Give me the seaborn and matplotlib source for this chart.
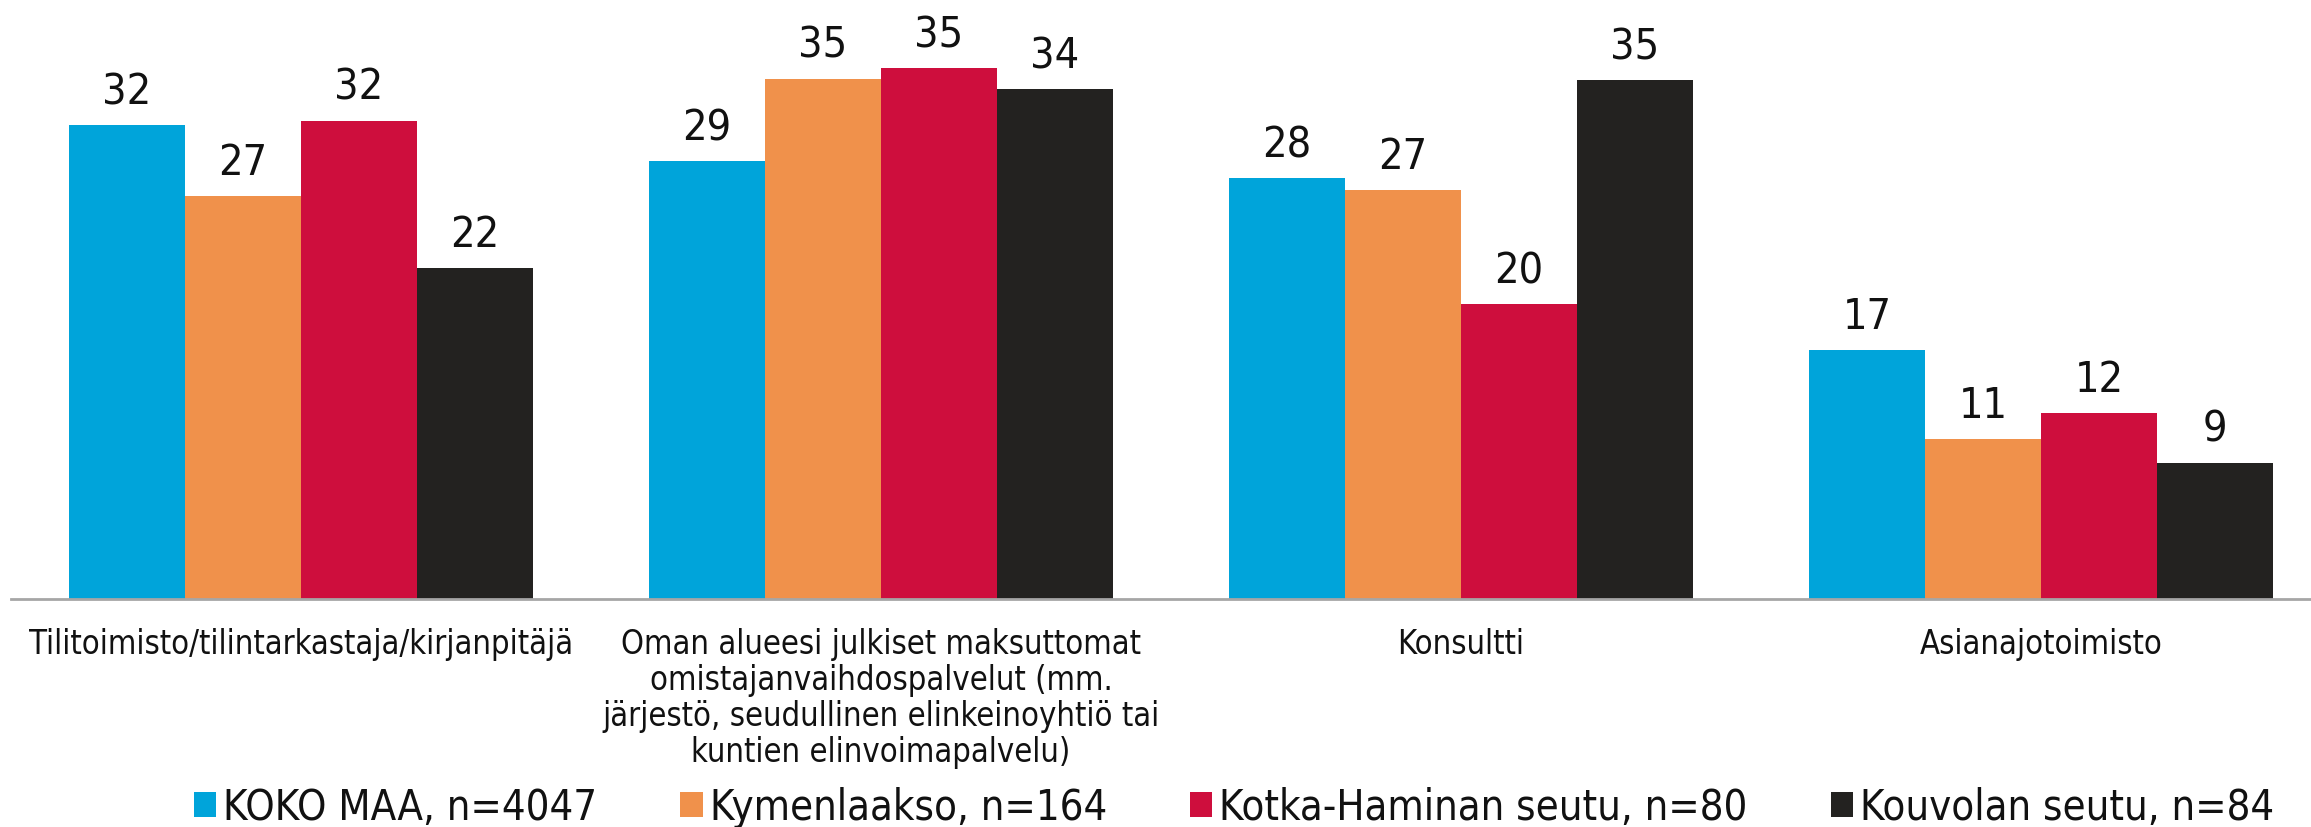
import pandas as pd
import matplotlib
matplotlib.use('Agg')
import matplotlib.pyplot as plt
import seaborn as sns

# ── Data ──────────────────────────────────────────────────────────────────────
categories = [
    'Tilitoimisto/tilintarkastaja/kirjanpitäjä',
    'Oman alueesi julkiset maksuttomat\nomistajanvaihdospalvelut (mm.\n'
    'järjestö, seudullinen elinkeinoyhtiö tai\nkuntien elinvoimapalvelu)',
    'Konsultti',
    'Asianajotoimisto',
]
series = ['KOKO MAA, n=4047', 'Kymenlaakso, n=164',
          'Kotka-Haminan seutu, n=80', 'Kouvolan seutu, n=84']
koko_maa = [31.6, 29.2, 28.1, 16.6]
kymenlaakso = [26.9, 34.7, 27.3, 10.7]
kotka_hamina = [31.9, 35.4, 19.7, 12.4]
kouvola = [22.1, 34.0, 34.6, 9.1]

COLORS = ['#00A4DA', '#F0914B', '#CE0E3D', '#232220']

df = pd.DataFrame({
    'category': categories * 4,
    'series': [s for s in series for _ in categories],
    'value': koko_maa + kymenlaakso + kotka_hamina + kouvola,
})

# ── Styling ───────────────────────────────────────────────────────────────────
sns.set_theme(style='white')
plt.rcParams['font.family'] = ['DejaVu Sans']
plt.rcParams['font.stretch'] = 'condensed'   # picks DejaVuSansCondensed

fig = plt.figure(figsize=(23.11, 8.28), dpi=100)
ax = fig.add_axes([11 / 2311, 228 / 828, 2320 / 2311, 600 / 828])

sns.barplot(data=df, x='category', y='value', hue='series',
            palette=COLORS, saturation=1, width=0.8, linewidth=0, ax=ax,
            order=categories, hue_order=series)

for cont in ax.containers:
    ax.bar_label(cont, fmt='%.0f', padding=9, fontsize=31, color='#111111')

ax.set_ylim(0, 40)
ax.set_xlabel('')
ax.set_ylabel('')
ax.set_yticks([])
ax.tick_params(axis='x', length=0, pad=20, labelsize=23.5, colors='#111111')
for lbl in ax.get_xticklabels():
    lbl.set_linespacing(1.12)
    lbl.set_verticalalignment('top')
for side in ['top', 'left', 'right']:
    ax.spines[side].set_visible(False)
ax.spines['bottom'].set_color('#A6A6A6')
ax.spines['bottom'].set_linewidth(2)

handles, labels = ax.get_legend_handles_labels()
ax.legend_.remove()
fig.legend(handles, labels, loc='center', bbox_to_anchor=(0.534, 20 / 828),
           ncol=4, frameon=False, fontsize=30, handlelength=0.53,
           handleheight=0.53, handletextpad=0.17, columnspacing=2.0,
           labelcolor='#111111')

fig.savefig('out.png', dpi=100, facecolor='white')
